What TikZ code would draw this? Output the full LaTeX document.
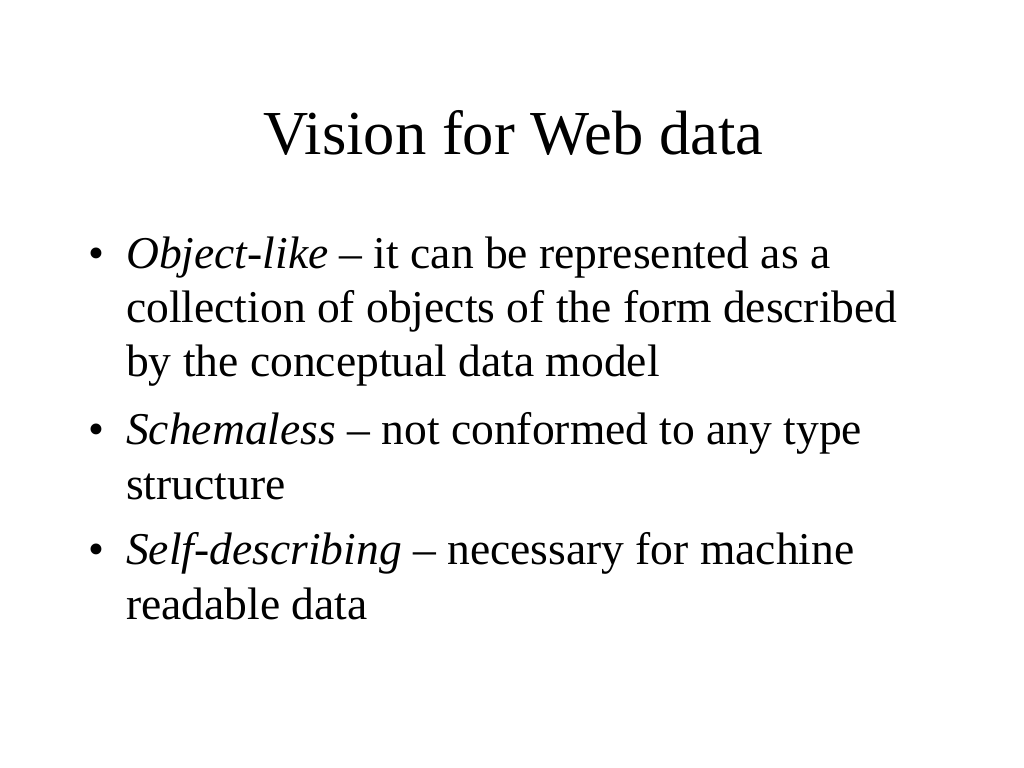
\documentclass[tikz,border=0pt]{standalone}
\usepackage{fontspec}
\setmainfont{Liberation Serif}
\begin{document}
\begin{tikzpicture}[x=1bp,y=1bp,
  body/.style={anchor=base west,inner sep=0pt,font=\fontsize{45.7}{54}\selectfont},
  bul/.style={anchor=base west,inner sep=0pt,font=\fontsize{45.7}{54}\selectfont},
  ttl/.style={anchor=base,inner sep=0pt,font=\fontsize{62.8}{70}\selectfont}]
\useasboundingbox[fill=white] (0,0) rectangle (1024,768);
\node[ttl] (title) at (513.5,613) {Vision for Web data};
\node[bul] (b1) at (88,499) {•};
\node[body] (l1) at (126,499) {\textit{Object-like} – it can be represented as a};
\node[body] (l2) at (126,445) {collection of objects of the form described};
\node[body] (l3) at (126,391) {by the conceptual data model};
\node[bul] (b2) at (88,323) {•};
\node[body] (l4) at (126,323) {\textit{Schemaless} – not conformed to any type};
\node[body] (l5) at (126,268) {structure};
\node[bul] (b3) at (88,203) {•};
\node[body] (l6) at (126,203) {\textit{Self-describing} – necessary for machine};
\node[body] (l7) at (126,148) {readable data};
\end{tikzpicture}
\end{document}
